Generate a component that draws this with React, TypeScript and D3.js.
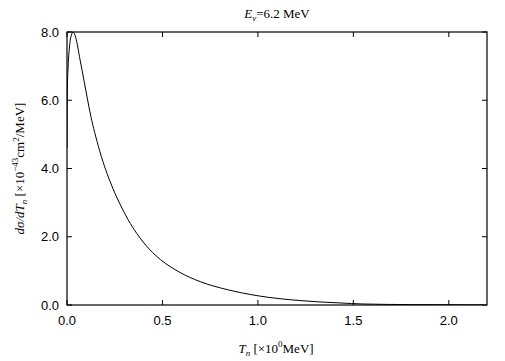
import React from "react";
import * as d3 from "d3";

const tValues = [0, 0.002, 0.006, 0.012, 0.02, 0.033, 0.045, 0.068, 0.09, 0.11, 0.13, 0.15, 0.18, 0.21, 0.24, 0.28, 0.32, 0.365, 0.434, 0.49, 0.59, 0.70, 0.84, 1.0, 1.22, 1.43, 1.55, 1.8, 2.18];
const sigmaValues = [4.6, 6.3, 7.0, 7.5, 7.85, 8.0, 7.85, 7.2, 6.55, 5.95, 5.4, 4.95, 4.35, 3.85, 3.42, 2.93, 2.5, 2.1, 1.62, 1.33, 0.96, 0.68, 0.45, 0.27, 0.13, 0.06, 0.03, 0.012, 0.005];
const xTicks = [0, 0.5, 1.0, 1.5, 2.0];
const yTicks = [0, 2, 4, 6, 8];

const W = 505, H = 361;
const M = { left: 67, right: 18, top: 32, bottom: 56 };

export default function App() {
  const x = d3.scaleLinear().domain([0, 2.2]).range([M.left, W - M.right]);
  const y = d3.scaleLinear().domain([0, 8]).range([H - M.bottom, M.top]);
  const data = tValues.map((t, i) => [t, sigmaValues[i]] as [number, number]);
  const line = d3.line<[number, number]>().x(d => x(d[0])).y(d => y(d[1])).curve(d3.curveMonotoneX);
  const x0 = M.left, x1 = W - M.right, y0 = H - M.bottom, y1 = M.top;
  const tl = 5;
  return (
    <svg width={W} height={H} style={{ position: "absolute", left: 0, top: 0, background: "#fff" }}>
      <defs>
        <clipPath id="c"><rect x={x0} y={y1 - 1} width={x1 - x0} height={y0 - y1 + 1} /></clipPath>
      </defs>
      <path d={line(data) ?? ""} fill="none" stroke="#000" strokeWidth={1} clipPath="url(#c)" />
      <rect x={x0} y={y1} width={x1 - x0} height={y0 - y1} fill="none" stroke="#000" strokeWidth={1.2} />
      {xTicks.map(t => (
        <g key={"x" + t}>
          <line x1={x(t)} x2={x(t)} y1={y0} y2={y0 - tl} stroke="#000" />
          <line x1={x(t)} x2={x(t)} y1={y1} y2={y1 + tl} stroke="#000" />
          <text x={x(t)} y={y0 + 20} textAnchor="middle" fontFamily="Liberation Sans, Arial, sans-serif" fontSize={13}>{t.toFixed(1)}</text>
        </g>
      ))}
      {yTicks.map(t => (
        <g key={"y" + t}>
          <line x1={x0} x2={x0 + tl} y1={y(t)} y2={y(t)} stroke="#000" />
          <line x1={x1} x2={x1 - tl} y1={y(t)} y2={y(t)} stroke="#000" />
          <text x={x0 - 8} y={y(t)} dy="0.35em" textAnchor="end" fontFamily="Liberation Sans, Arial, sans-serif" fontSize={13}>{t.toFixed(1)}</text>
        </g>
      ))}
      <text x={(x0 + x1) / 2} y={18} textAnchor="middle" fontFamily="Liberation Serif, Times New Roman, serif" fontSize={13}>
        <tspan fontStyle="italic">E</tspan><tspan fontStyle="italic" fontSize={9} dy={3}>ν</tspan><tspan dy={-3}>=6.2 MeV</tspan>
      </text>
      <text x={276} y={353} textAnchor="middle" fontFamily="Liberation Serif, Times New Roman, serif" fontSize={13}>
        <tspan fontStyle="italic">T</tspan><tspan fontStyle="italic" fontSize={9} dy={3}>n</tspan><tspan dy={-3}> [×10</tspan><tspan fontSize={9} dy={-6}>0</tspan><tspan dy={6}>MeV]</tspan>
      </text>
      <text transform={`translate(24, ${(y0 + y1) / 2}) rotate(-90)`} textAnchor="middle" fontFamily="Liberation Serif, Times New Roman, serif" fontSize={13}>
        <tspan fontStyle="italic">dσ/dT</tspan><tspan fontStyle="italic" fontSize={9} dy={3}>n</tspan><tspan dy={-3}> [×10</tspan><tspan fontSize={9} dy={-6}>−43</tspan><tspan dy={6}>cm</tspan><tspan fontSize={9} dy={-5}>2</tspan><tspan dy={5}>/MeV]</tspan>
      </text>
    </svg>
  );
}
